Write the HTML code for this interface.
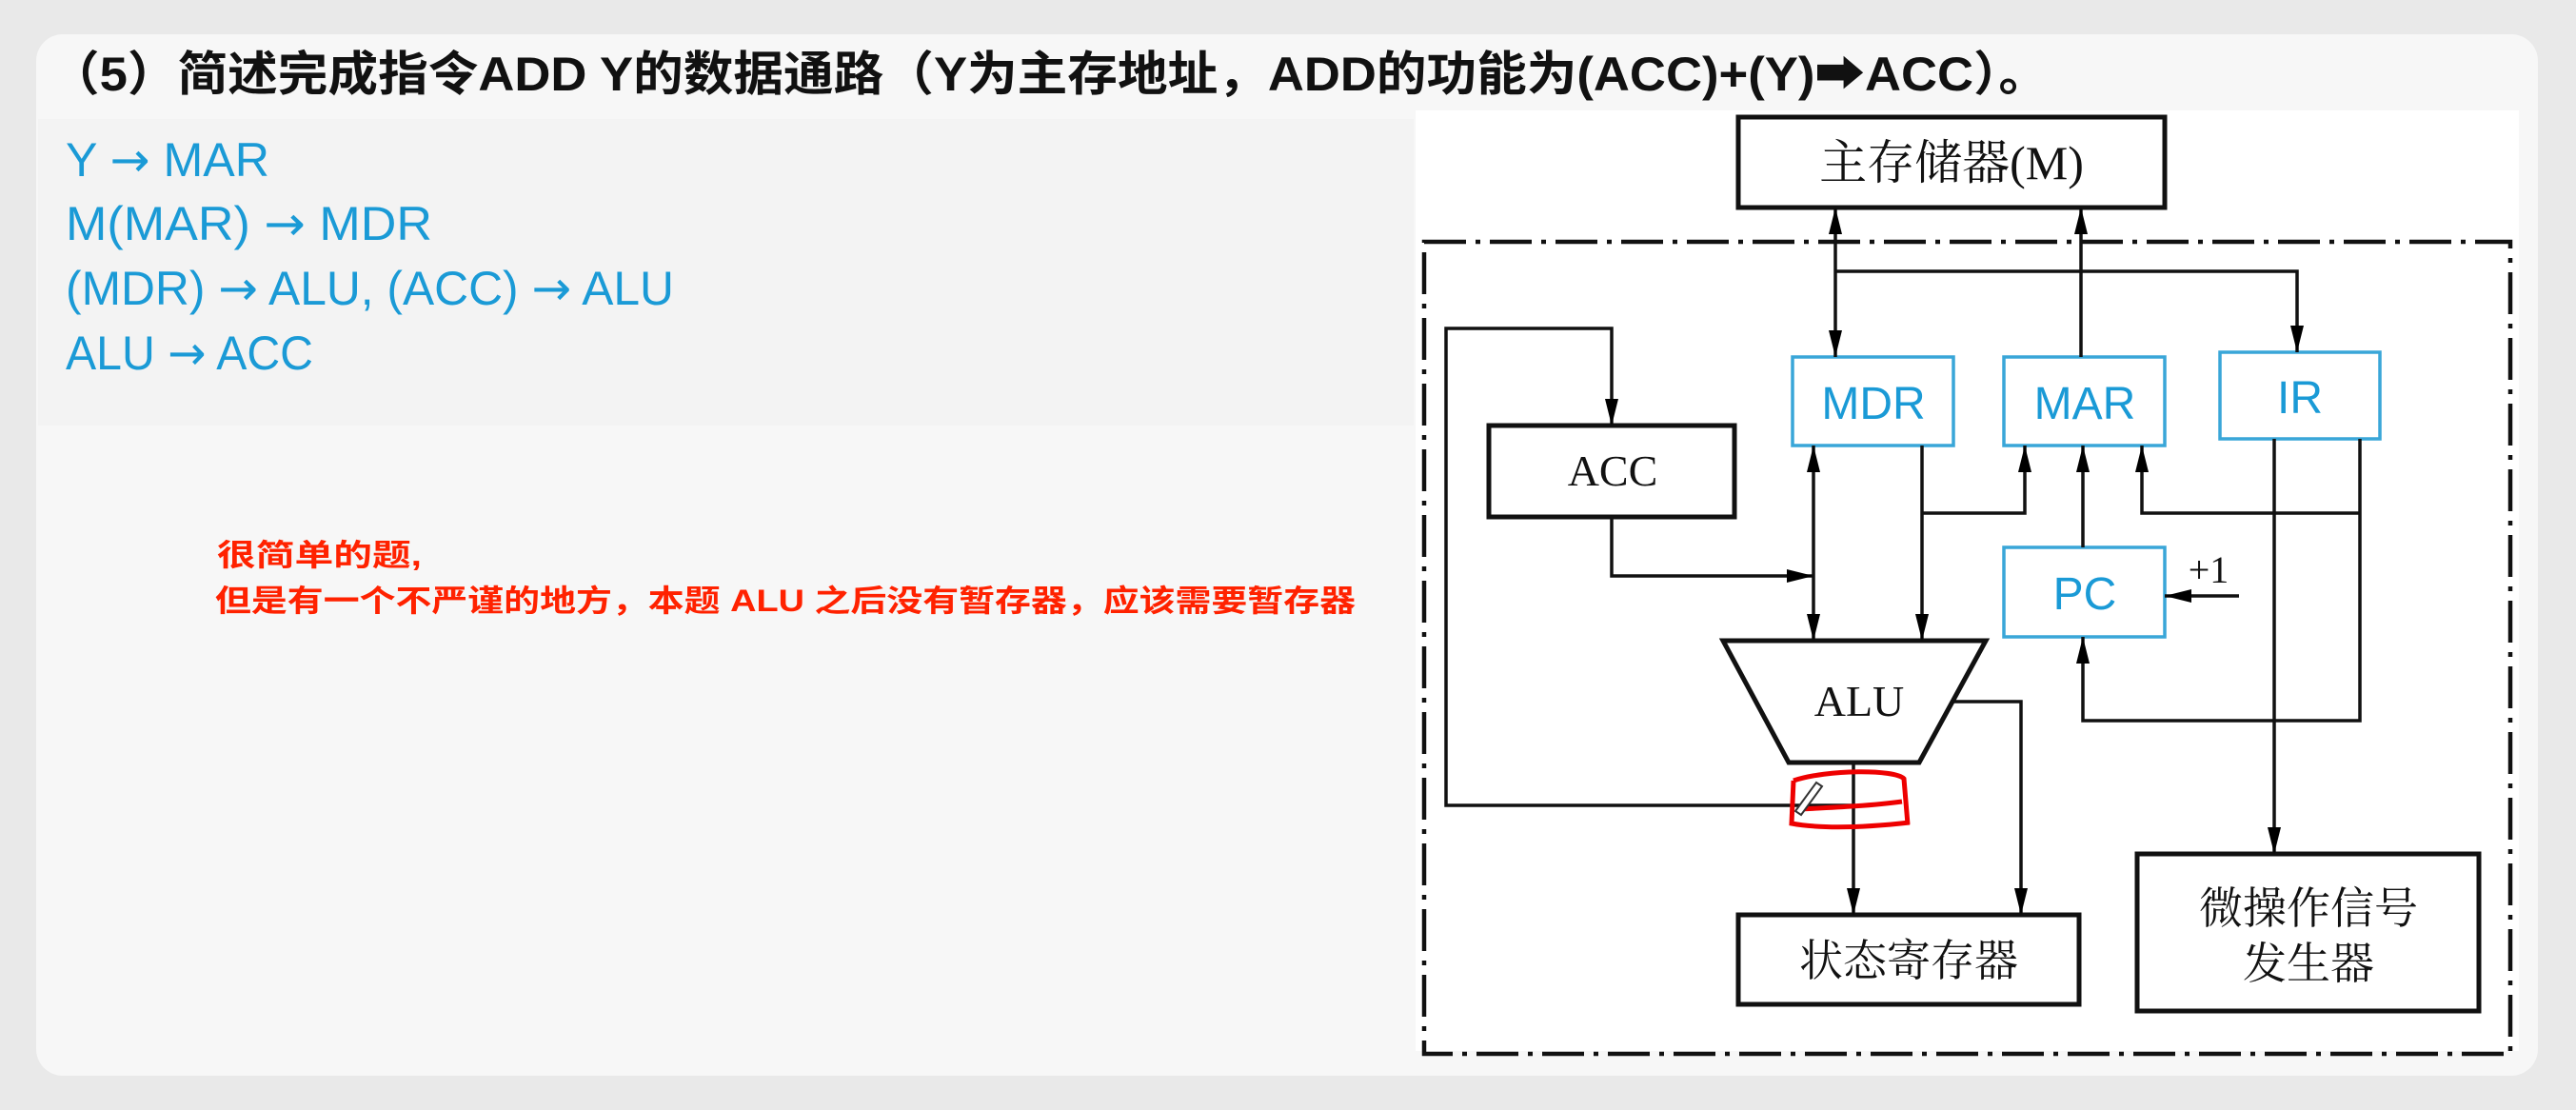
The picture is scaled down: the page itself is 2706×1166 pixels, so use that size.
<!DOCTYPE html>
<html><head><meta charset="utf-8"><style>
html,body{margin:0;padding:0;width:2706px;height:1166px;overflow:hidden;background:#e9e9e9;}
svg{position:absolute;left:0;top:0;}
</style></head><body>
<svg width="2706" height="1166" viewBox="0 0 2706 1166" xmlns="http://www.w3.org/2000/svg">
<defs>
<marker id="b" viewBox="-30 -8 30 16" refX="0" refY="0" markerWidth="30" markerHeight="16" markerUnits="userSpaceOnUse" orient="auto-start-reverse"><path d="M0,0 L-28,-7 L-28,7 Z" fill="#000"/></marker>
</defs>
<rect x="38" y="36" width="2628" height="1094" rx="28" fill="#f7f7f7"/>
<rect x="40" y="125" width="1445" height="322" fill="#f3f3f3"/>
<rect x="1487" y="116" width="1159" height="988" fill="#fff"/>
<text x="52" y="95" textLength="2100" lengthAdjust="spacingAndGlyphs" font-family="'Liberation Sans','Noto Sans CJK SC',sans-serif" font-size="50" font-weight="bold" fill="#111">（5）简述完成指令ADD Y的数据通路（Y为主存地址，ADD的功能为(ACC)+(Y)➡ACC）。</text>
<g font-family="'Liberation Sans','Noto Sans CJK SC',sans-serif" font-size="50" fill="#1a9ad6">
<text x="69" y="185" textLength="214" lengthAdjust="spacingAndGlyphs">Y <tspan font-family="'DejaVu Sans',sans-serif">→</tspan> MAR</text>
<text x="69" y="252" textLength="385" lengthAdjust="spacingAndGlyphs">M(MAR) <tspan font-family="'DejaVu Sans',sans-serif">→</tspan> MDR</text>
<text x="69" y="320" textLength="639" lengthAdjust="spacingAndGlyphs">(MDR) <tspan font-family="'DejaVu Sans',sans-serif">→</tspan> ALU, (ACC) <tspan font-family="'DejaVu Sans',sans-serif">→</tspan> ALU</text>
<text x="69" y="388" textLength="260" lengthAdjust="spacingAndGlyphs">ALU <tspan font-family="'DejaVu Sans',sans-serif">→</tspan> ACC</text>
</g>
<g font-family="'Liberation Sans','Noto Sans CJK SC',sans-serif" font-size="32" font-weight="bold" fill="#ff2200">
<text x="228" y="594" textLength="215" lengthAdjust="spacingAndGlyphs">很简单的题,</text>
<text x="226" y="642" textLength="1198" lengthAdjust="spacingAndGlyphs">但是有一个不严谨的地方，本题 ALU 之后没有暂存器，应该需要暂存器</text>
</g>
<rect x="1496" y="254" width="1141" height="853" fill="none" stroke="#111" stroke-width="4.5" stroke-dasharray="44 10 5 10"/>
<g fill="none" stroke="#111" stroke-width="5">
<rect x="1826" y="123" width="448" height="95"/>
<rect x="1564" y="447" width="258" height="96"/>
<polygon points="1810,673 2086,673 2016,801 1879,801"/>
<rect x="1826" y="961" width="358" height="94"/>
<rect x="2245" y="897" width="359" height="165"/>
</g>
<g fill="#fff" stroke="#39a6d8" stroke-width="3.5">
<rect x="1883" y="375" width="169" height="93"/>
<rect x="2105" y="375" width="169" height="93"/>
<rect x="2332" y="370" width="168" height="91"/>
<rect x="2105" y="575" width="169" height="94"/>
</g>
<g fill="none" stroke="#111" stroke-width="3.5">
<path d="M1928,218 V375" marker-start="url(#b)" marker-end="url(#b)"/>
<path d="M2186,375 V218" marker-end="url(#b)"/>
<path d="M1928,285 H2413 V370" marker-end="url(#b)"/>
<path d="M1947,846 H1519 V345 H1693 V447" marker-end="url(#b)"/>
<path d="M1693,543 V605 H1905" marker-end="url(#b)"/>
<path d="M1905,468 V673" marker-start="url(#b)" marker-end="url(#b)"/>
<path d="M2019,468 V673" marker-end="url(#b)"/>
<path d="M2019,539 H2127 V468" marker-end="url(#b)"/>
<path d="M2188,575 V468" marker-end="url(#b)"/>
<path d="M2479,539 H2250 V468" marker-end="url(#b)"/>
<path d="M2479,461 V757 H2188 V669" marker-end="url(#b)"/>
<path d="M2389,461 V897" marker-end="url(#b)"/>
<path d="M2352,626 H2274" marker-end="url(#b)"/>
<path d="M1947,801 V961" marker-end="url(#b)"/>
<path d="M2051,737 H2123 V961" marker-end="url(#b)"/>
</g>
<g font-family="'Liberation Serif','Noto Serif CJK SC',serif" font-size="46" fill="#111" text-anchor="middle">
<text x="2050" y="188" font-size="50">主存储器(M)</text>
<text x="1694" y="510">ACC</text>
<text x="1953" y="752">ALU</text>
<text x="2005" y="1025">状态寄存器</text>
<text x="2425" y="970">微操作信号</text>
<text x="2425" y="1028">发生器</text>
<text x="2320" y="612" font-size="40">+1</text>
</g>
<g font-family="'Liberation Sans',sans-serif" font-size="48" fill="#1a9ad6" text-anchor="middle">
<text x="1968" y="440">MDR</text>
<text x="2190" y="440">MAR</text>
<text x="2416" y="434">IR</text>
<text x="2190" y="640">PC</text>
</g>
<path d="M1884,820 C1920,808 1990,808 2000,818 L2004,866 M1884,820 L1882,865 C1920,872 1970,868 2006,864 M1890,850 C1930,848 1970,846 1998,842" fill="none" stroke="#e00" stroke-width="5"/>
<path d="M1886,852 L1908,822 L1914,826 L1892,856 Z" fill="#fff" stroke="#333" stroke-width="2"/>
</svg>
</body></html>
